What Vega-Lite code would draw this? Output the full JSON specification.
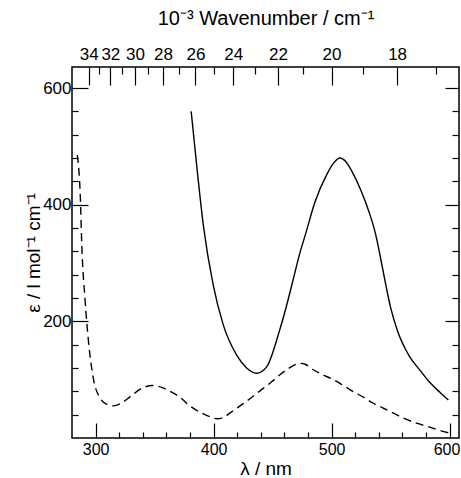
{
  "$schema": "https://vega.github.io/schema/vega-lite/v6.json",
  "width": 387,
  "height": 371,
  "autosize": {"type": "none"},
  "padding": {"left": 72, "top": 67, "right": 2, "bottom": 40},
  "config": {
    "view": {"stroke": "black", "strokeWidth": 1.5},
    "axis": {
      "labelFont": "Liberation Sans",
      "titleFont": "Liberation Sans",
      "labelColor": "black",
      "titleColor": "black",
      "tickColor": "black",
      "tickWidth": 1.2,
      "domain": false,
      "grid": false,
      "labelFontSize": 17,
      "titleFontSize": 18,
      "titleFontWeight": "normal",
      "labelOverlap": false,
      "labelFlush": false
    }
  },
  "datasets": {
    "solid": [
      {"wavelength": 381, "epsilon": 560},
      {"wavelength": 385.7, "epsilon": 467},
      {"wavelength": 391.3, "epsilon": 365},
      {"wavelength": 399.7, "epsilon": 262},
      {"wavelength": 408.2, "epsilon": 194},
      {"wavelength": 419.6, "epsilon": 142},
      {"wavelength": 428, "epsilon": 120},
      {"wavelength": 436.5, "epsilon": 111},
      {"wavelength": 445, "epsilon": 122},
      {"wavelength": 456, "epsilon": 185},
      {"wavelength": 462, "epsilon": 228},
      {"wavelength": 467.5, "epsilon": 272},
      {"wavelength": 473, "epsilon": 316},
      {"wavelength": 478, "epsilon": 350},
      {"wavelength": 486, "epsilon": 405},
      {"wavelength": 496, "epsilon": 452},
      {"wavelength": 502, "epsilon": 472},
      {"wavelength": 507, "epsilon": 480},
      {"wavelength": 512, "epsilon": 474},
      {"wavelength": 517, "epsilon": 458},
      {"wavelength": 525, "epsilon": 424},
      {"wavelength": 532, "epsilon": 386},
      {"wavelength": 537, "epsilon": 352},
      {"wavelength": 541, "epsilon": 314},
      {"wavelength": 546, "epsilon": 262},
      {"wavelength": 550, "epsilon": 224},
      {"wavelength": 556, "epsilon": 183},
      {"wavelength": 566, "epsilon": 140},
      {"wavelength": 575, "epsilon": 116},
      {"wavelength": 583, "epsilon": 96},
      {"wavelength": 592, "epsilon": 78},
      {"wavelength": 599, "epsilon": 65}
    ],
    "dashed": [
      {"wavelength": 284.5, "epsilon": 485},
      {"wavelength": 285.8, "epsilon": 460},
      {"wavelength": 287, "epsilon": 416},
      {"wavelength": 288.3, "epsilon": 330},
      {"wavelength": 291, "epsilon": 239},
      {"wavelength": 294, "epsilon": 165},
      {"wavelength": 298, "epsilon": 103},
      {"wavelength": 304, "epsilon": 68},
      {"wavelength": 310, "epsilon": 57},
      {"wavelength": 315, "epsilon": 55},
      {"wavelength": 322, "epsilon": 60},
      {"wavelength": 330, "epsilon": 72},
      {"wavelength": 340, "epsilon": 86},
      {"wavelength": 348, "epsilon": 90},
      {"wavelength": 357, "epsilon": 86},
      {"wavelength": 365, "epsilon": 78},
      {"wavelength": 371.5, "epsilon": 70},
      {"wavelength": 378, "epsilon": 58},
      {"wavelength": 386, "epsilon": 47},
      {"wavelength": 395, "epsilon": 38},
      {"wavelength": 403, "epsilon": 33},
      {"wavelength": 409, "epsilon": 36},
      {"wavelength": 414, "epsilon": 43},
      {"wavelength": 421, "epsilon": 53},
      {"wavelength": 428, "epsilon": 63},
      {"wavelength": 435, "epsilon": 74},
      {"wavelength": 442, "epsilon": 85},
      {"wavelength": 449, "epsilon": 96},
      {"wavelength": 456, "epsilon": 108},
      {"wavelength": 465, "epsilon": 121},
      {"wavelength": 473, "epsilon": 128},
      {"wavelength": 478, "epsilon": 126},
      {"wavelength": 484.5, "epsilon": 117},
      {"wavelength": 492, "epsilon": 109},
      {"wavelength": 501.5, "epsilon": 100},
      {"wavelength": 510, "epsilon": 90},
      {"wavelength": 518, "epsilon": 80},
      {"wavelength": 527, "epsilon": 70},
      {"wavelength": 535, "epsilon": 60},
      {"wavelength": 544, "epsilon": 51},
      {"wavelength": 552, "epsilon": 43},
      {"wavelength": 561, "epsilon": 34},
      {"wavelength": 571, "epsilon": 26},
      {"wavelength": 581, "epsilon": 20},
      {"wavelength": 590, "epsilon": 14},
      {"wavelength": 599, "epsilon": 9}
    ]
  },
  "layer": [
    {
      "data": {"name": "solid"},
      "mark": {"type": "line", "color": "black", "strokeWidth": 1.4, "interpolate": "monotone"},
      "encoding": {
        "x": {
          "field": "wavelength",
          "type": "quantitative",
          "scale": {"domain": [280, 608], "nice": false, "zero": false},
          "axis": {
            "orient": "bottom",
            "values": [300, 320, 340, 360, 380, 400, 420, 440, 460, 480, 500, 520, 540, 560, 580, 600],
            "labelExpr": "datum.value % 100 == 0 ? datum.label : ''",
            "tickSize": {"condition": {"test": "datum.value % 100 == 0", "value": -15}, "value": -6},
            "labelOffset": {"condition": {"test": "datum.value == 600", "value": -3}, "value": 0},
            "labelFontSize": 16,
            "labelPadding": 18,
            "title": "λ / nm",
            "titleFontSize": 19,
            "titlePadding": -7
          }
        },
        "y": {
          "field": "epsilon",
          "type": "quantitative",
          "scale": {"domain": [0, 636], "nice": false, "zero": false},
          "axis": {
            "orient": "left",
            "values": [40, 80, 120, 160, 200, 240, 280, 320, 360, 400, 440, 480, 520, 560, 600],
            "labelExpr": "datum.value % 200 == 0 ? datum.label : ''",
            "tickSize": {"condition": {"test": "datum.value % 200 == 0", "value": -16}, "value": -6},
            "labelPadding": 17,
            "title": "ε / l mol⁻¹ cm⁻¹",
            "titleFontSize": 19,
            "titlePadding": -1
          }
        }
      }
    },
    {
      "data": {"name": "dashed"},
      "mark": {"type": "line", "color": "black", "strokeWidth": 1.4, "strokeDash": [8, 5], "interpolate": "monotone"},
      "encoding": {
        "x": {
          "field": "wavelength",
          "type": "quantitative",
          "scale": {"domain": [280, 608], "nice": false, "zero": false},
          "axis": {
            "orient": "top",
            "values": [294.1176, 303.0303, 312.5, 322.5806, 333.3333, 344.8276, 357.1429, 370.3704, 384.6154, 400, 416.6667, 434.7826, 454.5455, 476.1905, 500, 526.3158, 555.5556, 588.2353],
            "labelExpr": "round(10000 / datum.value) % 2 == 0 ? format(round(10000 / datum.value), 'd') : ''",
            "tickSize": {"condition": {"test": "round(10000 / datum.value) % 2 == 0", "value": -18}, "value": -7},
            "labelPadding": 22,
            "title": "10⁻³ Wavenumber / cm⁻¹",
            "titleFontSize": 20,
            "titlePadding": 6
          }
        },
        "y": {
          "field": "epsilon",
          "type": "quantitative",
          "scale": {"domain": [0, 636], "nice": false, "zero": false},
          "axis": {
            "orient": "right",
            "values": [40, 80, 120, 160, 200, 240, 280, 320, 360, 400, 440, 480, 520, 560, 600],
            "labels": false,
            "tickSize": {"condition": {"test": "datum.value % 200 == 0", "value": -14}, "value": -7},
            "title": null
          }
        }
      }
    }
  ],
  "resolve": {"axis": {"x": "independent", "y": "independent"}}
}
